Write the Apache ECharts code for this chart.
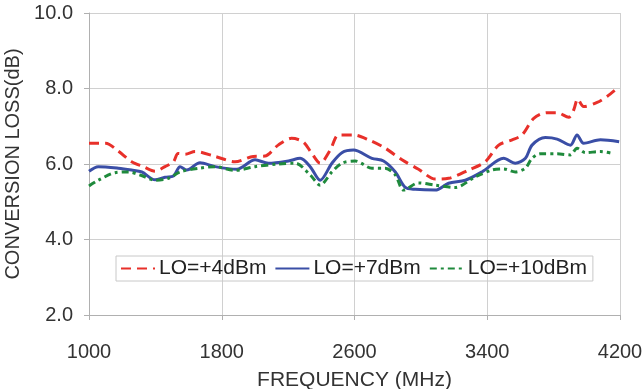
<!DOCTYPE html>
<html>
<head>
<meta charset="utf-8">
<script src="https://cdn.jsdelivr.net/npm/echarts@6/dist/echarts.min.js"></script>
<style>
  html, body { margin: 0; padding: 0; background: #fff; }
  #chart { width: 644px; height: 389px; }
</style>
</head>
<body>
<div id="chart"></div>
<script>
// frequency (MHz) / conversion loss (dB)
const lo4Freq = [1000, 1100, 1177, 1257, 1328, 1398, 1458, 1509, 1537, 1579, 1640, 1760, 1880, 1990, 2060, 2140, 2220, 2290, 2340, 2393, 2454, 2504, 2594, 2685, 2785, 2886, 2986, 3087, 3167, 3288, 3388, 3469, 3550, 3610, 3680, 3760, 3821, 3891, 3921, 3945, 3981, 4062, 4122, 4195];
const lo4Loss = [6.55, 6.55, 6.34, 6.06, 5.93, 5.81, 5.93, 6.06, 6.28, 6.26, 6.33, 6.2, 6.06, 6.2, 6.21, 6.5, 6.68, 6.59, 6.3, 6.02, 6.37, 6.77, 6.77, 6.64, 6.42, 6.11, 5.86, 5.6, 5.62, 5.84, 6.06, 6.5, 6.64, 6.77, 7.21, 7.36, 7.36, 7.24, 7.43, 7.72, 7.52, 7.63, 7.79, 8.05];

const lo7Freq = [1000, 1056, 1177, 1257, 1318, 1398, 1458, 1509, 1549, 1589, 1669, 1760, 1891, 2001, 2081, 2202, 2273, 2333, 2393, 2464, 2524, 2594, 2705, 2775, 2846, 2906, 2966, 3087, 3167, 3268, 3368, 3499, 3569, 3630, 3670, 3750, 3821, 3901, 3941, 3981, 4082, 4195];
const lo7Loss = [5.81, 5.93, 5.89, 5.84, 5.79, 5.58, 5.65, 5.68, 5.93, 5.84, 6.03, 5.93, 5.86, 6.11, 6.02, 6.08, 6.15, 5.93, 5.57, 6.02, 6.3, 6.37, 6.15, 6.08, 5.79, 5.38, 5.33, 5.31, 5.49, 5.57, 5.79, 6.15, 6.02, 6.15, 6.5, 6.7, 6.66, 6.5, 6.77, 6.55, 6.64, 6.59];

const lo10Freq = [1000, 1056, 1157, 1237, 1308, 1398, 1478, 1549, 1669, 1760, 1880, 2001, 2142, 2243, 2333, 2393, 2464, 2524, 2604, 2705, 2785, 2846, 2896, 2986, 3087, 3207, 3328, 3429, 3499, 3569, 3630, 3670, 3720, 3821, 3901, 3941, 3991, 4082, 4142];
const lo10Loss = [5.42, 5.57, 5.77, 5.79, 5.71, 5.57, 5.62, 5.79, 5.89, 5.93, 5.83, 5.93, 6.0, 6.02, 5.71, 5.44, 5.79, 6.02, 6.08, 5.89, 5.89, 5.71, 5.31, 5.5, 5.44, 5.38, 5.66, 5.84, 5.87, 5.79, 5.89, 6.15, 6.27, 6.27, 6.24, 6.42, 6.3, 6.33, 6.29];

const seriesNames = ["LO=+4dBm", "LO=+7dBm", "LO=+10dBm"];

const pairs = (xs, ys) => xs.map((x, i) => [x, ys[i]]);

const FONT = "Liberation Sans";
const chart = echarts.init(document.getElementById("chart"));

chart.setOption({
    animation: false,
    grid: {left: 89, right: 24, top: 13, bottom: 74, containLabel: false, outerBoundsMode: "none"},
    legend: {
        left: 116,
        top: 256,
        itemWidth: 34,
        itemHeight: 12,
        itemGap: 8,
        padding: [2, 6, 2, 4],
        borderColor: "#c8c8c8",
        borderWidth: 1,
        itemStyle: {opacity: 0},
        textStyle: {fontFamily: FONT, fontSize: 21, color: "#222", padding: [0, 0, 0, -1]},
        data: seriesNames
    },
    xAxis: {
        type: "value",
        min: 1000,
        max: 4200,
        interval: 800,
        name: "FREQUENCY (MHz)",
        nameLocation: "middle",
        nameGap: 55,
        nameTextStyle: {fontFamily: FONT, fontSize: 21, color: "#333"},
        axisLine: {show: true, lineStyle: {color: "#b0b0b0"}},
        axisTick: {show: true, length: 5, lineStyle: {color: "#b0b0b0"}},
        axisLabel: {fontFamily: FONT, fontSize: 20, color: "#333", margin: 27, formatter: v => String(v)},
        splitLine: {show: true, lineStyle: {color: "#d0d0d0", width: 1}}
    },
    yAxis: {
        type: "value",
        min: 2,
        max: 10,
        interval: 2,
        name: "CONVERSION LOSS(dB)",
        nameLocation: "middle",
        nameRotate: 90,
        nameGap: 61,
        nameTextStyle: {fontFamily: FONT, fontSize: 20, color: "#333"},
        axisLine: {show: true, lineStyle: {color: "#b0b0b0"}},
        axisTick: {show: true, length: 5, lineStyle: {color: "#b0b0b0"}},
        axisLabel: {
            fontFamily: FONT, fontSize: 20, color: "#333", margin: 16,
            formatter: v => v.toFixed(1)
        },
        splitLine: {show: true, lineStyle: {color: "#d0d0d0", width: 1}}
    },
    series: [
        {
            name: seriesNames[0],
            type: "line",
            smooth: 0.3,
            symbol: "none",
            color: "#e8302a",
            lineStyle: {width: 3, type: [10, 6]},
            data: pairs(lo4Freq, lo4Loss)
        },
        {
            name: seriesNames[1],
            type: "line",
            smooth: 0.3,
            symbol: "none",
            color: "#3a4ea6",
            lineStyle: {width: 3},
            data: pairs(lo7Freq, lo7Loss)
        },
        {
            name: seriesNames[2],
            type: "line",
            smooth: 0.3,
            symbol: "none",
            color: "#1f8a3c",
            lineStyle: {width: 3, type: [7, 4, 3, 4]},
            data: pairs(lo10Freq, lo10Loss)
        }
    ]
});
</script>
</body>
</html>
